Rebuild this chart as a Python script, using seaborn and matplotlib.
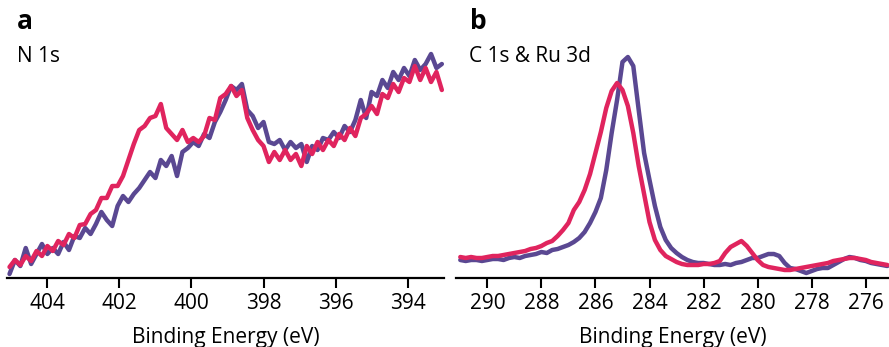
import numpy as np
import pandas as pd
import matplotlib
matplotlib.use("Agg")
import matplotlib.pyplot as plt
import seaborn as sns

# ---------------- data ----------------
# Panel a: N 1s, binding energy grid (eV)
energy_n1s = [405.05, 404.90, 404.75, 404.60, 404.45, 404.30, 404.15, 404.00, 403.85, 403.70,
              403.55, 403.40, 403.25, 403.10, 402.95, 402.80, 402.65, 402.50, 402.35, 402.20,
              402.05, 401.90, 401.75, 401.60, 401.45, 401.30, 401.15, 401.00, 400.85, 400.70,
              400.55, 400.40, 400.25, 400.10, 399.95, 399.80, 399.65, 399.50, 399.35, 399.20,
              399.05, 398.90, 398.75, 398.60, 398.45, 398.30, 398.15, 398.00, 397.85, 397.70,
              397.55, 397.40, 397.25, 397.10, 396.95, 396.80, 396.65, 396.50, 396.35, 396.20,
              396.05, 395.90, 395.75, 395.60, 395.45, 395.30, 395.15, 395.00, 394.85, 394.70,
              394.55, 394.40, 394.25, 394.10, 393.95, 393.80, 393.65, 393.50, 393.35, 393.20,
              393.05]
n1s_purple = [4, 18, 12, 30, 14, 24, 34, 24, 30, 24,
              36, 28, 42, 40, 50, 44, 54, 66, 58, 52,
              72, 82, 76, 84, 90, 98, 106, 100, 118, 112,
              122, 102, 126, 130, 136, 132, 144, 140, 156, 166,
              178, 192, 188, 194, 168, 162, 150, 156, 136, 134,
              138, 128, 136, 130, 134, 116, 132, 128, 140, 138,
              146, 140, 152, 146, 158, 178, 160, 186, 182, 198,
              190, 206, 198, 210, 202, 218, 208, 214, 224, 210,
              214]
n1s_red = [11, 18, 13, 22, 17, 27, 22, 32, 27, 37,
           33, 44, 40, 53, 54, 64, 68, 80, 80, 92,
           92, 102, 118, 134, 148, 152, 160, 162, 174, 150,
           144, 138, 148, 136, 140, 136, 142, 160, 158, 180,
           184, 192, 182, 188, 160, 148, 138, 132, 116, 126,
           118, 128, 118, 124, 112, 132, 124, 136, 128, 138,
           132, 144, 138, 150, 142, 160, 164, 172, 164, 184,
           180, 194, 186, 200, 196, 212, 198, 210, 196, 206,
           188]

# Panel b: C 1s & Ru 3d, binding energy grid (eV)
energy_c1s = [291.0, 290.8, 290.6, 290.4, 290.2, 290.0, 289.8, 289.6, 289.4, 289.2,
              289.0, 288.8, 288.6, 288.4, 288.2, 288.0, 287.8, 287.6, 287.4, 287.2,
              287.0, 286.8, 286.6, 286.4, 286.2, 286.0, 285.8, 285.6, 285.4, 285.2,
              285.0, 284.8, 284.6, 284.4, 284.2, 284.0, 283.8, 283.6, 283.4, 283.2,
              283.0, 282.8, 282.6, 282.4, 282.2, 282.0, 281.8, 281.6, 281.4, 281.2,
              281.0, 280.8, 280.6, 280.4, 280.2, 280.0, 279.8, 279.6, 279.4, 279.2,
              279.0, 278.8, 278.6, 278.4, 278.2, 278.0, 277.8, 277.6, 277.4, 277.2,
              277.0, 276.8, 276.6, 276.4, 276.2, 276.0, 275.8, 275.6, 275.4, 275.2]
c1s_purple = [18, 17, 18, 18, 17, 18, 19, 19, 18, 20,
              21, 20, 22, 23, 24, 26, 25, 28, 29, 31,
              33, 36, 40, 46, 55, 66, 80, 108, 145, 178,
              216, 221, 212, 168, 125, 98, 72, 51, 38, 30,
              25, 21, 18, 16, 15, 15, 14, 13, 13, 14,
              13, 15, 16, 18, 20, 20, 22, 24, 24, 22,
              15, 10, 9, 7, 5, 7, 9, 10, 10, 13,
              16, 19, 21, 20, 18, 17, 15, 14, 13, 12]
c1s_red = [21, 20, 21, 20, 20, 21, 22, 22, 23, 24,
           25, 26, 27, 29, 30, 32, 35, 37, 42, 48,
           55, 68, 76, 88, 104, 125, 146, 170, 187, 195,
           188, 172, 145, 112, 84, 56, 38, 28, 22, 19,
           16, 14, 13, 13, 13, 14, 14, 15, 17, 25,
           31, 34, 37, 32, 25, 18, 13, 11, 10, 9,
           8, 8, 9, 10, 11, 12, 13, 14, 15, 17,
           18, 19, 20, 20, 19, 18, 16, 15, 14, 13]

tick_a = [404, 402, 400, 398, 396, 394]
tick_b = [290, 288, 286, 284, 282, 280, 278, 276]
panel_letters = ["a", "b"]
panel_titles = ["N 1s", "C 1s & Ru 3d"]
xlabel = "Binding Energy (eV)"

# ---------------- style ----------------
sns.set_theme(style="white")
plt.rcParams["font.family"] = ["Open Sans", "DejaVu Sans"]
plt.rcParams["text.color"] = "black"
plt.rcParams["axes.labelcolor"] = "black"
plt.rcParams["xtick.color"] = "black"

PURPLE = "#5a4892"
RED = "#e0245e"

W, H = 889, 347
fig = plt.figure(figsize=(W / 100, H / 100), dpi=100)

def px_axes(left, right, top, bottom):
    return fig.add_axes([left / W, 1 - bottom / H, (right - left) / W, (bottom - top) / H])

ax_a = px_axes(7, 444, 40, 278)
ax_b = px_axes(455.7, 889, 40, 278)

df_a = pd.DataFrame({"E": energy_n1s, "purple": n1s_purple, "red": n1s_red})
df_b = pd.DataFrame({"E": energy_c1s, "purple": c1s_purple, "red": c1s_red})

for ax, df in ((ax_a, df_a), (ax_b, df_b)):
    sns.lineplot(data=df, x="E", y="purple", ax=ax, color=PURPLE, linewidth=3.2,
                 estimator=None, sort=False)
    sns.lineplot(data=df, x="E", y="red", ax=ax, color=RED, linewidth=3.2,
                 estimator=None, sort=False)

ax_a.set_xlim(405.12, 392.99)
ax_b.set_xlim(291.17, 275.14)
ax_a.set_xticks(tick_a)
ax_b.set_xticks(tick_b)

for ax in (ax_a, ax_b):
    ax.set_ylim(0, 238)
    ax.set_yticks([])
    ax.set_ylabel("")
    ax.set_xlabel(xlabel, fontsize=15, labelpad=9, color="black")
    for s in ("top", "left", "right"):
        ax.spines[s].set_visible(False)
    ax.spines["bottom"].set_linewidth(1.6)
    ax.spines["bottom"].set_color("black")
    ax.tick_params(axis="x", direction="out", length=7, width=1.5, color="black",
                   labelcolor="black", labelsize=15, pad=4, bottom=True)
    ax.patch.set_alpha(0)

fig.text(17 / W, 1 - 29 / H, panel_letters[0], fontsize=19, fontweight="bold", va="baseline", color="black")
fig.text(17 / W, 1 - 62 / H, panel_titles[0], fontsize=15, va="baseline", color="black")
fig.text(470 / W, 1 - 29 / H, panel_letters[1], fontsize=19, fontweight="bold", va="baseline", color="black")
fig.text(469 / W, 1 - 62 / H, panel_titles[1], fontsize=15, va="baseline", color="black")

fig.savefig("out.png", dpi=100)
